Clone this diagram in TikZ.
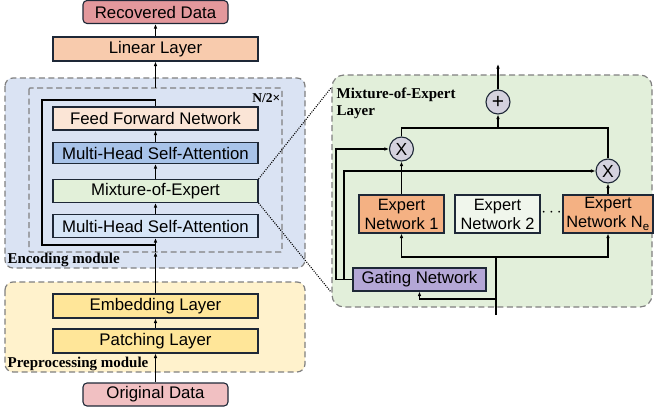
\documentclass[tikz,border=0pt]{standalone}
\usepackage{fontspec}
\setmainfont{Liberation Sans}
\newfontfamily\tagfont{Liberation Serif}
\usetikzlibrary{arrows.meta}

\definecolor{edge}{RGB}{30,40,55}
\definecolor{frame}{RGB}{128,128,128}
\definecolor{recfill}{RGB}{227,152,156}
\definecolor{orgfill}{RGB}{241,192,194}
\definecolor{linfill}{RGB}{248,203,173}
\definecolor{ffnfill}{RGB}{251,229,214}
\definecolor{attdark}{RGB}{168,195,233}
\definecolor{attlight}{RGB}{214,229,247}
\definecolor{moefill}{RGB}{226,240,217}
\definecolor{encfill}{RGB}{218,227,243}
\definecolor{prefill}{RGB}{255,242,204}
\definecolor{layfill}{RGB}{255,230,153}
\definecolor{panfill}{RGB}{226,239,218}
\definecolor{expfill}{RGB}{244,177,131}
\definecolor{exppale}{RGB}{240,246,236}
\definecolor{gatefill}{RGB}{180,167,214}
\definecolor{opfill}{RGB}{212,210,222}

\begin{document}
\begin{tikzpicture}[x=1pt,y=-1pt,line width=1.3pt,>={Latex[length=4.5pt,width=3.6pt]}]
\tikzstyle{every node}=[font=\fontsize{16.8}{19}\selectfont]
\tikzstyle{block}=[draw=edge, line width=1.1pt, inner sep=0pt, minimum width=205pt, minimum height=23pt]
\tikzstyle{data}=[block, rounded corners=4pt, minimum width=145pt]
\tikzstyle{expert}=[block, minimum width=85pt, minimum height=38pt, align=center, font=\fontsize{16.4}{19}\selectfont]
\tikzstyle{mult}=[draw=edge, line width=1.1pt, circle, fill=opfill, minimum size=24pt, inner sep=0pt]
\tikzstyle{module}=[draw=frame, dash pattern=on 6pt off 3.5pt, line width=1.2pt, rounded corners=8pt]
\tikzstyle{tag}=[font=\tagfont\bfseries\fontsize{15}{17}\selectfont, inner sep=0pt]

\useasboundingbox (0,0) rectangle (654,413);

\draw[module, fill=encfill] (5,78) rectangle (305,268);
\draw[module, rounded corners=1pt] (29,88) rectangle (282,252);
\draw[module, fill=prefill] (5,282) rectangle (305,372);
\draw[module, fill=panfill, rounded corners=12pt] (332,75) rectangle (652,307);

\node[tag, anchor=base west] at (7,263) {Encoding module};
\node[tag, anchor=base west] at (7,367) {Preprocessing module};
\node[tag, anchor=base east, font=\tagfont\bfseries\fontsize{13.5}{15}\selectfont] at (281,102) {N/2×};
\node[tag, anchor=north west, align=left] at (336,87) {Mixture-of-Expert\\Layer};

\node[data, fill=recfill] (rec) at (155.5,12) {Recovered Data};
\node[block, fill=linfill, minimum height=24pt] (lin) at (155.5,49) {Linear Layer};
\node[block, fill=ffnfill] (ffn) at (155.5,118.5) {Feed Forward Network};
\node[block, fill=attdark, minimum height=21pt] (att2) at (155.5,153) {Multi-Head Self-Attention};
\node[block, fill=moefill] (moe) at (155.5,191) {Mixture-of-Expert};
\node[block, fill=attlight] (att1) at (155.5,226) {Multi-Head Self-Attention};
\node[block, fill=layfill, minimum height=24pt] (emb) at (155.5,306) {Embedding Layer};
\node[block, fill=layfill, minimum height=24pt] (pat) at (155.5,341) {Patching Layer};
\node[data, fill=orgfill] (org) at (155.5,394.5) {Original Data};

\coordinate (encout) at (155.5,88);
\coordinate (encin) at (155.5,252);
\coordinate (loopb) at (155.5,245);
\coordinate (loopbl) at (42,245);
\coordinate (looptl) at (42,100);
\coordinate (loopt) at (155.5,100);

\draw[->] (org) -- (pat);
\draw[->] (pat) -- (emb);
\draw[->] (emb) -- (encin);
\draw[->] (encin) -- (att1);
\draw[->] (att1) -- (moe);
\draw[->] (moe) -- (att2);
\draw[->] (att2) -- (ffn);
\draw (loopb) -- (loopbl) -- (looptl) -- (loopt) -- (ffn);
\draw[->] (encout) -- (lin);
\draw[->] (lin) -- (rec);

\coordinate (zoomt) at (331,88);
\coordinate (zoomb) at (331,292);
\draw[line width=1.1pt, dash pattern=on 1pt off 1.3pt] (moe.north east) -- (zoomt);
\draw[line width=1.1pt, dash pattern=on 1pt off 1.3pt] (moe.south east) -- (zoomb);

\node[mult, font=\fontsize{21}{21}\selectfont] (plus) at (498,102) {+};
\node[mult, font=\fontsize{17.5}{19}\selectfont] (x1) at (401.5,149) {X};
\node[mult, font=\fontsize{17.5}{19}\selectfont] (xn) at (608,171) {X};
\node[expert, fill=expfill] (e1) at (401.5,214) {Expert\\Network 1};
\node[expert, fill=exppale] (e2) at (497.5,214) {Expert\\Network 2};
\node[expert, fill=expfill, minimum width=90pt] (en) at (608,214) {Expert\\Network N\textsubscript{e}};
\node (dots) at (551.5,213) {$\cdots$};
\node[block, fill=gatefill, minimum width=133pt] (gate) at (419.5,279.5) {Gating Network};

\coordinate (moeout) at (498,64);
\coordinate (sumj) at (498,128);
\coordinate (moein) at (496,315);
\coordinate (split) at (496,257);
\coordinate (gsplit) at (496,299);
\coordinate (gl1) at (336,149);
\coordinate (gl2) at (344,171);

\draw[->] (plus) -- (moeout);
\draw (x1) |- (sumj) -| (xn);
\draw[->] (sumj) -- (plus);
\draw[->] (e1) -- (x1);
\draw[->] (en) -- (xn);
\draw (moein) -- (split);
\draw[->] (split) -| (e1);
\draw[->] (split) -| (en);
\draw[->] (gsplit) -| (gate);
\draw[->] (gate.west) -| (gl1) -- (x1);
\draw[->] (gate.west) -| (gl2) -- (xn);
\end{tikzpicture}
\end{document}
